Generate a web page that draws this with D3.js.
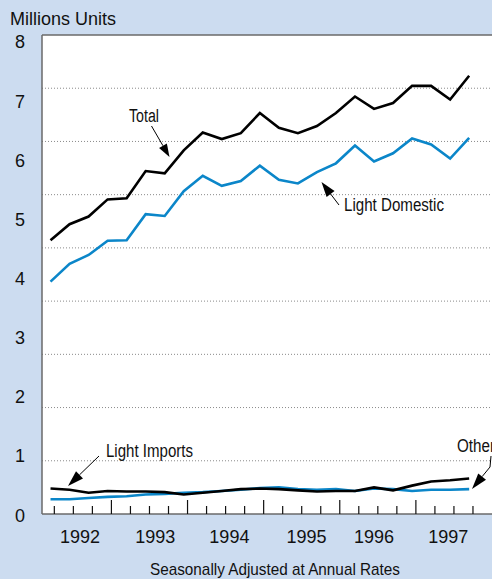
<!DOCTYPE html>
<html lang="en">
<head>
  <meta charset="UTF-8">
  <title>Light Vehicle Sales</title>
  <style>
    html, body { margin: 0; padding: 0; background: #ccdcf0; }
    svg { display: block; }
    .reg { font-family: "Liberation Sans", Arial, Helvetica, sans-serif; }
  </style>
</head>
<body>
  <svg width="492" height="579"></svg>

  <script src="https://cdn.jsdelivr.net/npm/d3@7"></script>
  <script>
    // quarterly data, 1992 Q1 .. 1997 Q3 (millions of units, SAAR)
    const total         = [4.63, 4.90, 5.03, 5.32, 5.34, 5.80, 5.76, 6.15, 6.45, 6.34, 6.44, 6.78, 6.53, 6.44, 6.56, 6.78, 7.06, 6.85, 6.95, 7.24, 7.24, 7.01, 7.41];
    const lightDomestic = [3.93, 4.23, 4.38, 4.62, 4.63, 5.07, 5.04, 5.46, 5.72, 5.55, 5.63, 5.89, 5.65, 5.59, 5.78, 5.93, 6.23, 5.96, 6.10, 6.35, 6.25, 6.01, 6.36];
    const lightImports  = [0.43, 0.41, 0.36, 0.39, 0.38, 0.38, 0.37, 0.33, 0.36, 0.39, 0.42, 0.43, 0.42, 0.40, 0.38, 0.39, 0.39, 0.45, 0.40, 0.48, 0.55, 0.57, 0.60];
    const other         = [0.25, 0.25, 0.27, 0.29, 0.30, 0.33, 0.34, 0.36, 0.37, 0.39, 0.41, 0.44, 0.45, 0.42, 0.41, 0.42, 0.39, 0.43, 0.42, 0.39, 0.41, 0.41, 0.42];

    const years = ["1992", "1993", "1994", "1995", "1996", "1997"];
    const yearLabelAt = [2.35, 6.3, 10.2, 14.25, 17.8, 21.7]; // in quarters from start of 1992
    const yTicks = [0, 1, 2, 3, 4, 5, 6, 7, 8];

    const svg = d3.select("svg");
    const W = +svg.attr("width");

    const mLeft = 42, mTop = 35, mBottom = 514;

    // x in quarters since 1992-01-01
    const x = d3.scaleLinear().domain([0, 24]).range([35.3, 492]);
    const px = i => x(i + 0.8);
    const y = d3.scaleLinear().domain([0, 8.1]).range([mBottom, mTop]);

    // plot background
    svg.append("rect")
      .attr("x", mLeft).attr("y", mTop)
      .attr("width", W - mLeft).attr("height", mBottom - mTop)
      .attr("fill", "#fff");

    // dotted grid (9 bands)
    svg.append("g")
      .selectAll("line")
      .data(d3.range(1, 9).map(k => k * 0.9))
      .join("line")
        .attr("x1", mLeft).attr("x2", W)
        .attr("y1", d => y(d)).attr("y2", d => y(d))
        .attr("stroke", "#8a8a8a")
        .attr("stroke-width", 1)
        .attr("stroke-dasharray", "1,2");

    // frame
    svg.append("line").attr("x1", mLeft).attr("x2", W).attr("y1", mTop).attr("y2", mTop)
      .attr("stroke", "#6a6a6a").attr("stroke-width", 1.5);
    svg.append("line").attr("x1", mLeft).attr("x2", mLeft).attr("y1", mTop).attr("y2", mBottom)
      .attr("stroke", "#6a6a6a").attr("stroke-width", 1.5);
    svg.append("line").attr("x1", mLeft).attr("x2", W).attr("y1", mBottom).attr("y2", mBottom)
      .attr("stroke", "#6a6a6a").attr("stroke-width", 1.5);

    // x ticks (pointing up into the plot)
    svg.append("g")
      .selectAll("line")
      .data(d3.range(1, 24))
      .join("line")
        .attr("x1", d => x(d)).attr("x2", d => x(d))
        .attr("y1", mBottom)
        .attr("y2", d => d % 4 === 0 ? mBottom - 14 : mBottom - 8)
        .attr("stroke", "#111")
        .attr("stroke-width", 1.2);

    // year labels
    svg.append("g")
      .selectAll("text")
      .data(years)
      .join("text")
        .attr("class", "reg")
        .attr("x", (d, i) => x(yearLabelAt[i]))
        .attr("y", 543)
        .attr("text-anchor", "middle")
        .attr("font-size", 18)
        .attr("fill", "#111")
        .text(d => d);

    // y labels
    svg.append("g")
      .selectAll("text")
      .data(yTicks)
      .join("text")
        .attr("class", "reg")
        .attr("x", 20)
        .attr("y", d => y(d) + 7.5)
        .attr("text-anchor", "middle")
        .attr("font-size", 18)
        .attr("fill", "#111")
        .text(d => d);

    svg.append("text")
      .attr("class", "reg")
      .attr("x", 10).attr("y", 25)
      .attr("font-size", 18)
      .attr("fill", "#111")
      .text("Millions Units");

    // condensed look: squeeze regular glyphs to the measured widths
    svg.append("text")
      .attr("class", "reg")
      .attr("x", 150).attr("y", 575)
      .attr("font-size", 17)
      .attr("textLength", 250)
      .attr("lengthAdjust", "spacingAndGlyphs")
      .attr("fill", "#111")
      .text("Seasonally Adjusted at Annual Rates");

    // series lines
    const line = d3.line().x((d, i) => px(i)).y(d => y(d));
    const series = [
      { vals: other, color: "#0b86c9" },
      { vals: lightImports, color: "#000" },
      { vals: lightDomestic, color: "#0b86c9" },
      { vals: total, color: "#000" }
    ];
    svg.append("g")
      .selectAll("path")
      .data(series)
      .join("path")
        .attr("d", d => line(d.vals))
        .attr("fill", "none")
        .attr("stroke", d => d.color)
        .attr("stroke-width", 2.6)
        .attr("stroke-linejoin", "miter");

    // annotations
    function arrow(pts, headLen, headW) {
      const n = pts.length;
      const [tx, ty] = pts[n - 1], [sx, sy] = pts[n - 2];
      const a = Math.atan2(ty - sy, tx - sx);
      const bx = tx - headLen * Math.cos(a), by = ty - headLen * Math.sin(a);
      const nx = -Math.sin(a) * headW / 2, ny = Math.cos(a) * headW / 2;
      const shaft = pts.slice(0, n - 1).concat([[bx, by]]);
      svg.append("path")
        .attr("d", d3.line()(shaft))
        .attr("fill", "none").attr("stroke", "#000").attr("stroke-width", 1);
      svg.append("path")
        .attr("d", `M${tx},${ty}L${bx + nx},${by + ny}L${bx - nx},${by - ny}Z`)
        .attr("fill", "#000");
    }

    const labels = [
      { text: "Total", x: 129, y: 122, w: 30 },
      { text: "Light Domestic", x: 344, y: 211, w: 100 },
      { text: "Light Imports", x: 106, y: 457, w: 87 },
      { text: "Other", x: 457, y: 452, w: 38 }
    ];
    svg.append("g")
      .selectAll("text")
      .data(labels)
      .join("text")
        .attr("class", "reg")
        .attr("x", d => d.x).attr("y", d => d.y)
        .attr("font-size", 18)
        .attr("textLength", d => d.w)
        .attr("lengthAdjust", "spacingAndGlyphs")
        .attr("fill", "#111")
        .text(d => d.text);

    arrow([[151.5, 126], [169.5, 157]], 13, 9);
    arrow([[339, 205], [321.5, 182]], 15, 10);
    arrow([[99, 456], [68, 486]], 16, 10);
    arrow([[491, 456], [490, 467], [472, 489]], 16, 10);
  </script>
</body>
</html>
